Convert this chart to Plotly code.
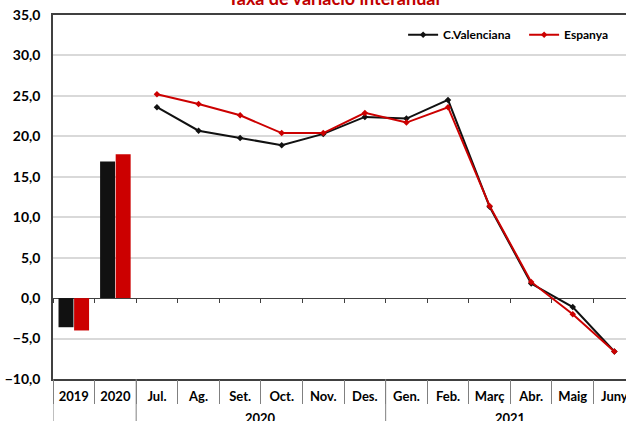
import plotly.graph_objects as go

# ---- data ----
groups = ["", "", "2020", "2020", "2020", "2020", "2020", "2020",
          "2021", "2021", "2021", "2021", "2021", "2021"]
categories = ["2019", "2020", "Jul.", "Ag.", "Set.", "Oct.", "Nov.", "Des.",
              "Gen.", "Feb.", "Març", "Abr.", "Maig", "Juny"]
bar_cv = [-3.6, 16.9]
bar_es = [-4.0, 17.8]
line_cv = [23.6, 20.7, 19.8, 18.9, 20.3, 22.4, 22.2, 24.5, 11.3, 1.8, -1.1, -6.6]
line_es = [25.2, 24.0, 22.6, 20.4, 20.4, 22.9, 21.7, 23.6, 11.4, 2.0, -2.0, -6.6]
title_text = "Taxa de variació interanual"

BLACK = "#111111"
RED = "#CC0000"
GRAY = "#808080"
FONT = "Lato"
Y_MIN, Y_MAX = -10, 35
X_RANGE = [-0.5, 13.28]
PLOT_H = 421 - 15 - 42

fig = go.Figure()
fig.add_trace(go.Bar(x=categories[:2], y=bar_cv, marker_color=BLACK,
                     marker_line_width=0, showlegend=False, name="C.Valenciana"))
fig.add_trace(go.Bar(x=categories[:2], y=bar_es, marker_color=RED,
                     marker_line_width=0, showlegend=False, name="Espanya"))
fig.add_trace(go.Scatter(x=categories[2:], y=line_cv, mode="lines+markers",
                         name="C.Valenciana", line=dict(color=BLACK, width=2),
                         marker=dict(symbol="diamond", size=5, color=BLACK)))
fig.add_trace(go.Scatter(x=categories[2:], y=line_es, mode="lines+markers",
                         name="Espanya", line=dict(color=RED, width=2),
                         marker=dict(symbol="diamond", size=5, color=RED)))
# invisible traces carrying the categories of the helper tick axes
for ax in ("x2", "x3"):
    fig.add_trace(go.Scatter(x=categories, y=[None] * len(categories), xaxis=ax,
                             mode="lines", showlegend=False, hoverinfo="skip"))

# group labels and long dividers (category-index based)
annotations = [dict(text="<b>" + title_text + "</b>", xref="paper", yref="paper",
                    x=0.49, y=1.012, xanchor="center", yanchor="bottom", showarrow=False,
                    font=dict(family=FONT, size=18, color="#C00000"))]
shapes = []
unique_groups = []
for g in groups:
    if g not in unique_groups:
        unique_groups.append(g)
for g in unique_groups:
    idx = [i for i, gg in enumerate(groups) if gg == g]
    if g:
        annotations.append(dict(text="<b>" + g + "</b>", x=sum(idx) / len(idx), xref="x",
                                y=-39 / PLOT_H, yref="paper", yanchor="middle",
                                showarrow=False,
                                font=dict(family=FONT, size=13, color="#000000")))
    shapes.append(dict(type="line", xref="x", yref="paper", x0=idx[0] - 0.5, x1=idx[0] - 0.5,
                       y0=0, y1=-45 / PLOT_H, line=dict(color=GRAY, width=1)))

fig.update_layout(
    width=626, height=421,
    margin=dict(l=53, r=0, t=15, b=42, autoexpand=False),
    paper_bgcolor="white", plot_bgcolor="white",
    separators=",.",
    barmode="group", bargap=0.25, bargroupgap=0.04,
    font=dict(family=FONT, color="#000000"),
    legend=dict(orientation="h", x=0.611, xanchor="left", y=0.946, yanchor="middle",
                font=dict(family=FONT, size=12, weight="bold"), bgcolor="rgba(0,0,0,0)",
                itemwidth=30, tracegroupgap=0, entrywidth=76, entrywidthmode="pixels"),
    annotations=annotations,
    shapes=shapes,
    xaxis=dict(
        type="category", range=X_RANGE, automargin=False,
        showline=True, linecolor="#404040", linewidth=1.5, mirror=True,
        ticks="", ticklabelstandoff=5,
        tickfont=dict(family=FONT, size=13, weight="bold", color="#000000"),
        showgrid=False,
    ),
    xaxis2=dict(type="category", overlaying="x", anchor="free",
                position=(0 - Y_MIN) / (Y_MAX - Y_MIN), range=X_RANGE, automargin=False,
                showticklabels=False, showline=False, showgrid=False,
                ticks="outside", tickson="boundaries", ticklen=4, tickcolor="#404040"),
    xaxis3=dict(type="category", overlaying="x", anchor="free", position=0,
                range=X_RANGE, automargin=False,
                showticklabels=False, showline=False, showgrid=False,
                ticks="outside", tickson="boundaries", ticklen=24, tickcolor=GRAY),
    yaxis=dict(
        range=[Y_MIN, Y_MAX], dtick=5, tickformat=".1f", automargin=False,
        showline=True, linecolor="#404040", linewidth=1.5,
        showgrid=True, gridcolor="#D9D9D9", gridwidth=1.5,
        zeroline=True, zerolinecolor="#404040", zerolinewidth=1,
        ticks="", ticklabelstandoff=8,
        tickfont=dict(family=FONT, size=14, weight="bold", color="#000000"),
    ),
)

fig.write_html("out.html", config={"displayModeBar": False},
               post_script="document.body.style.margin='0';")
